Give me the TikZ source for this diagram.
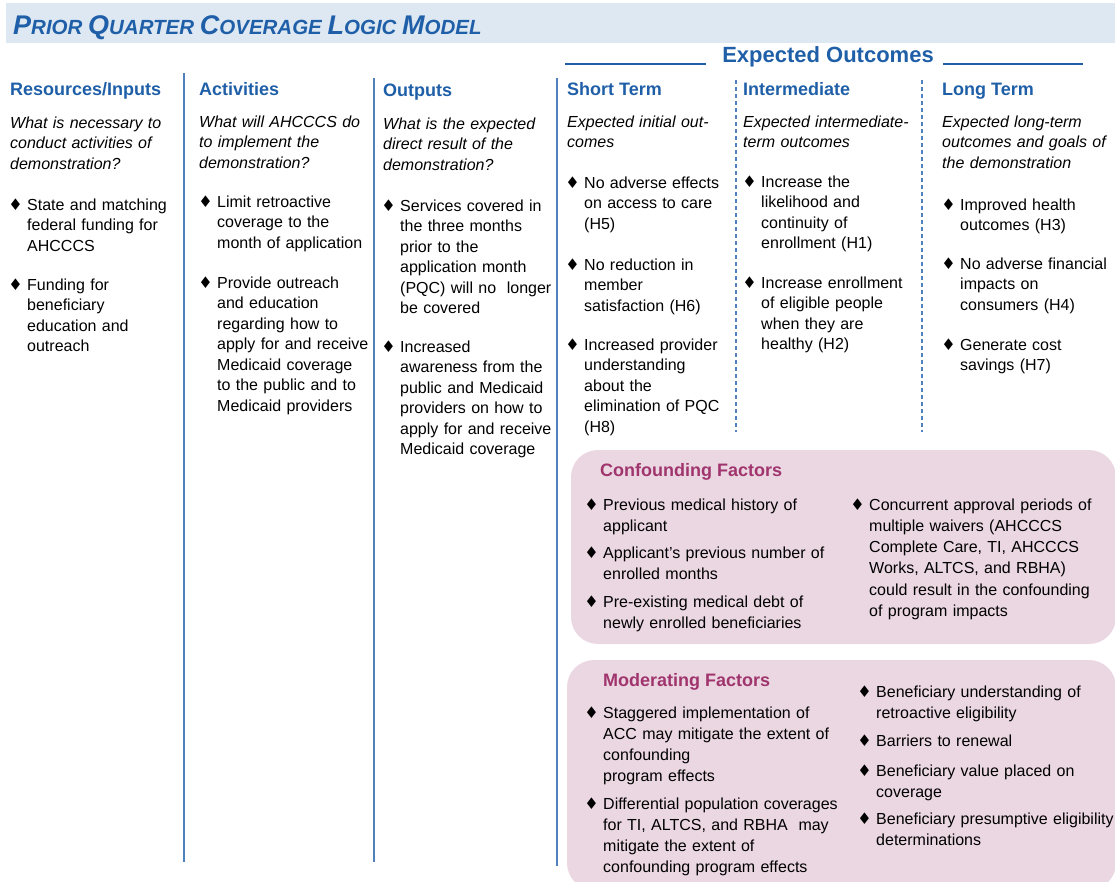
\documentclass[tikz,border=0pt]{standalone}
\usepackage{fontspec}
\setmainfont{Liberation Sans}
\newfontfamily\dejavu{DejaVu Sans}
\definecolor{pqblue}{HTML}{1F5FA8}
\definecolor{pqline}{HTML}{4F81BD}
\definecolor{pqbar}{HTML}{DEE8F3}
\definecolor{pqpink}{HTML}{EBD7E2}
\definecolor{pqplum}{HTML}{A0356E}
\usetikzlibrary{positioning}
\newcommand{\bul}{\llap{{\dejavu\fontsize{16}{16}\selectfont ♦}\hspace{4.5pt}}}
\newcommand{\bigc}[1]{{\fontsize{27}{27}\selectfont #1}}

\begin{document}
\begin{tikzpicture}[x=1pt, y=-1pt,
    colhead/.style={anchor=base west, inner sep=0pt,
                    font=\fontsize{18}{20}\selectfont\bfseries, text=pqblue},
    ask/.style={anchor=base west, inner sep=0pt, text width=190pt, align=left,
                font=\fontsize{16}{20.5}\selectfont\itshape},
    item/.style={anchor=base west, inner sep=0pt, text width=190pt, align=left,
                 font=\fontsize{16}{20.5}\selectfont},
    boxitem/.style={item, text width=260pt, font=\fontsize{16}{21.3}\selectfont},
    factorbox/.style={fill=pqpink, rounded corners=27pt},
    boxhead/.style={anchor=base west, inner sep=0pt,
                    font=\fontsize{18}{20}\selectfont\bfseries, text=pqplum},
    colline/.style={pqline, line width=2pt},
    dashline/.style={pqline, line width=1.5pt, dash pattern=on 4pt off 3pt}
  ]
  \useasboundingbox (0,0) rectangle (1115,881);

  % title bar
  \fill[pqbar] (6,3) rectangle (1115,43);
  \node[anchor=base west, inner sep=0pt, text=pqblue,
        font=\fontsize{20.5}{20}\selectfont\bfseries\itshape] (title) at (13,34)
    {\bigc{P}RIOR \bigc{Q}UARTER \bigc{C}OVERAGE \bigc{L}OGIC \bigc{M}ODEL};

  % expected outcomes banner
  \node[anchor=base, inner sep=0pt, text=pqblue,
        font=\fontsize{22}{22}\selectfont\bfseries] (eo) at (828,62) {Expected Outcomes};
  \draw[pqblue, line width=2.5pt] (565,64) -- (706,64);
  \draw[pqblue, line width=2.5pt] (943,64) -- (1083,64);

  % column rules
  \draw[colline] (184,73) -- (184,862);
  \draw[colline] (374,78) -- (374,862);
  \draw[colline] (557,78) -- (557,866);
  \draw[dashline] (736,80) -- (736,432);
  \draw[dashline] (922,80) -- (922,432);

  % column heads
  \node[colhead] (h1) at (10,95) {Resources/Inputs};
  \node[colhead] (h2) at (199,95) {Activities};
  \node[colhead] (h3) at (383,96) {Outputs};
  \node[colhead] (h4) at (567,95) {Short Term};
  \node[colhead] (h5) at (743,95) {Intermediate};
  \node[colhead] (h6) at (942,95) {Long Term};

  \node[ask] (q1) at (10,128) {What is necessary to\\conduct activities of\\demonstration?};
  \node[ask] (q2) at (199,127) {What will AHCCCS do\\to implement the\\demonstration?};
  \node[ask] (q3) at (383,129) {What is the expected\\direct result of the\\demonstration?};
  \node[ask] (q4) at (567,127) {Expected initial out-\\comes};
  \node[ask] (q5) at (743,127) {Expected intermediate-\\term outcomes};
  \node[ask] (q6) at (942,127) {Expected long-term\\outcomes and goals of\\the demonstration};

  % resources
  \node[item] (r1) at (27,210) {\bul State and matching\\federal funding for\\AHCCCS};
  \node[item] (r2) at (27,290) {\bul Funding for\\beneficiary\\education and\\outreach};

  % activities
  \node[item] (a1) at (217,207) {\bul Limit retroactive\\coverage to the\\month of application};
  \node[item] (a2) at (217,288) {\bul Provide outreach\\and education\\regarding how to\\apply for and receive\\Medicaid coverage\\to the public and to\\Medicaid providers};

  % outputs
  \node[item] (o1) at (400,211) {\bul Services covered in\\the three months\\prior to the\\application month\\(PQC) will no~ longer\\be covered};
  \node[item] (o2) at (400,352) {\bul Increased\\awareness from the\\public and Medicaid\\providers on how to\\apply for and receive\\Medicaid coverage};

  % short term
  \node[item] (s1) at (584,188) {\bul No adverse effects\\on access to care\\(H5)};
  \node[item] (s2) at (584,270) {\bul No reduction in\\member\\satisfaction (H6)};
  \node[item] (s3) at (584,350) {\bul Increased provider\\understanding\\about the\\elimination of PQC\\(H8)};

  % intermediate
  \node[item] (m1) at (761,187) {\bul Increase the\\likelihood and\\continuity of\\enrollment (H1)};
  \node[item] (m2) at (761,288) {\bul Increase enrollment\\of eligible people\\when they are\\healthy (H2)};

  % long term
  \node[item] (l1) at (960,210) {\bul Improved health\\outcomes (H3)};
  \node[item] (l2) at (960,269) {\bul No adverse financial\\impacts on\\consumers (H4)};
  \node[item] (l3) at (960,350) {\bul Generate cost\\savings (H7)};

  % confounding factors
  \fill[factorbox] (571,450) rectangle (1116,644);
  \node[boxhead] (cf) at (600,476) {Confounding Factors};
  \node[boxitem] (c1) at (603,510) {\bul Previous medical history of\\applicant};
  \node[boxitem] (c2) at (603,558) {\bul Applicant's previous number of\\enrolled months};
  \node[boxitem] (c3) at (603,607) {\bul Pre-existing medical debt of\\newly enrolled beneficiaries};
  \node[boxitem] (c4) at (869,510) {\bul Concurrent approval periods of\\multiple waivers (AHCCCS\\Complete Care, TI, AHCCCS\\Works, ALTCS, and RBHA)\\could result in the confounding\\of program impacts};

  % moderating factors
  \fill[factorbox] (567,660) rectangle (1116,890);
  \node[boxhead] (mf) at (603,686) {Moderating Factors};
  \node[boxitem] (f1) at (603,718) {\bul Staggered implementation of\\ACC may mitigate the extent of\\confounding\\program effects};
  \node[boxitem] (f2) at (603,809) {\bul Differential population coverages\\for TI, ALTCS, and RBHA~ may\\mitigate the extent of\\confounding program effects};
  \node[boxitem] (f3) at (876,697) {\bul Beneficiary understanding of\\retroactive eligibility};
  \node[boxitem] (f4) at (876,746) {\bul Barriers to renewal};
  \node[boxitem] (f5) at (876,776) {\bul Beneficiary value placed on\\coverage};
  \node[boxitem] (f6) at (876,824) {\bul Beneficiary presumptive eligibility\\determinations};
\end{tikzpicture}
\end{document}
